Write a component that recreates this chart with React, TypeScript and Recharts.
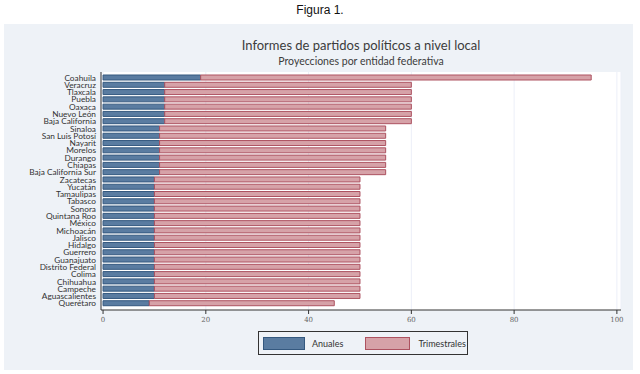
import React from 'react';
import { BarChart, Bar, XAxis, YAxis, CartesianGrid } from 'recharts';

// entidades, de arriba hacia abajo
const entidades = [
  'Coahuila', 'Veracruz', 'Tlaxcala', 'Puebla', 'Oaxaca', 'Nuevo León', 'Baja California',
  'Sinaloa', 'San Luis Potosí', 'Nayarit', 'Morelos', 'Durango', 'Chiapas', 'Baja California Sur',
  'Zacatecas', 'Yucatán', 'Tamaulipas', 'Tabasco', 'Sonora', 'Quintana Roo', 'México',
  'Michoacán', 'Jalisco', 'Hidalgo', 'Guerrero', 'Guanajuato', 'Distrito Federal', 'Colima',
  'Chihuahua', 'Campeche', 'Aguascalientes', 'Querétaro',
];

const anuales = [
  19, 12, 12, 12, 12, 12, 12,
  11, 11, 11, 11, 11, 11, 11,
  10, 10, 10, 10, 10, 10, 10,
  10, 10, 10, 10, 10, 10, 10,
  10, 10, 10, 9,
];

const trimestrales = [
  76, 48, 48, 48, 48, 48, 48,
  44, 44, 44, 44, 44, 44, 44,
  40, 40, 40, 40, 40, 40, 40,
  40, 40, 40, 40, 40, 40, 40,
  40, 40, 40, 36,
];

const xTicks = [0, 20, 40, 60, 80, 100];

const data = entidades.map((entidad, i) => ({
  entidad,
  anuales: anuales[i],
  trimestrales: trimestrales[i],
}));

const AZUL = '#5a7ca1';
const AZUL_BORDE = '#34587f';
const ROSA = '#d6a2a8';
const ROSA_BORDE = '#ad5260';
const FONT = 'Lato, "Open Sans", sans-serif';

// etiqueta sin salto de linea
const EntidadTick = (props: any) => {
  const { x, y, payload } = props;
  return (
    <text x={x} y={y} dy={3} textAnchor="end" fill="#333" fontSize={8.3} fontFamily={FONT}>
      {payload.value}
    </text>
  );
};

export default function App() {
  return (
    <div style={{ position: 'absolute', left: 0, top: 0, width: 640, height: 374, background: '#fff' }}>
      <div
        style={{
          position: 'absolute', left: 0, top: 3, width: 640, textAlign: 'center',
          fontFamily: '"Liberation Sans", Arial, sans-serif', fontSize: 12, color: '#111',
        }}
      >
        Figura 1.
      </div>
      {/* panel gris claro */}
      <div style={{ position: 'absolute', left: 4, top: 24, width: 629, height: 346, background: '#eef2f7' }} />
      {/* region blanca del grafico */}
      <div style={{ position: 'absolute', left: 101, top: 72, width: 520, height: 238, background: '#fff' }} />
      <div
        style={{
          position: 'absolute', left: 101, top: 37, width: 520, textAlign: 'center',
          fontFamily: FONT, fontSize: 13, fontWeight: 400, color: '#3c3c3c',
        }}
      >
        Informes de partidos políticos a nivel local
      </div>
      <div
        style={{
          position: 'absolute', left: 101, top: 55, width: 520, textAlign: 'center',
          fontFamily: FONT, fontSize: 10.5, color: '#3c3c3c',
        }}
      >
        Proyecciones por entidad federativa
      </div>
      <div style={{ position: 'absolute', left: 0, top: 0 }}>
        <BarChart
          width={640}
          height={374}
          data={data}
          layout="vertical"
          margin={{ top: 72, right: 19, bottom: 44, left: 0 }}
          barSize={5}
        >
          <CartesianGrid horizontal={false} stroke="#eceff8" strokeWidth={1} />
          <XAxis
            type="number"
            domain={[-0.4, 100.8]}
            ticks={xTicks}
            allowDataOverflow
            height={20}
            tickSize={4}
            tickMargin={3}
            stroke="#333"
            tick={{ fill: '#666', fontSize: 7, fontFamily: '"DejaVu Serif", serif' }}
          />
          <YAxis
            type="category"
            dataKey="entidad"
            width={101}
            interval={0}
            padding={{ top: 2, bottom: 3 }}
            tickLine={false}
            tickSize={0}
            tickMargin={5}
            stroke="#333"
            tick={<EntidadTick />}
          />
          <Bar dataKey="anuales" stackId="a" fill={AZUL} stroke={AZUL_BORDE} strokeWidth={1} isAnimationActive={false} />
          <Bar dataKey="trimestrales" stackId="a" fill={ROSA} stroke={ROSA_BORDE} strokeWidth={1} isAnimationActive={false} />
        </BarChart>
      </div>
      {/* leyenda */}
      <div
        style={{
          position: 'absolute', left: 258, top: 331, width: 208, height: 22,
          border: '1px solid #333', display: 'flex', alignItems: 'center',
          fontFamily: FONT, fontSize: 9, color: '#333', background: '#eef2f7',
        }}
      >
        <span style={{ marginLeft: 4, width: 42, height: 13, boxSizing: 'border-box', background: AZUL, border: `1px solid ${AZUL_BORDE}` }} />
        <span style={{ marginLeft: 7 }}>Anuales</span>
        <span style={{ marginLeft: 22, width: 45, height: 13, boxSizing: 'border-box', background: ROSA, border: `1px solid ${ROSA_BORDE}` }} />
        <span style={{ marginLeft: 8 }}>Trimestrales</span>
      </div>
    </div>
  );
}
